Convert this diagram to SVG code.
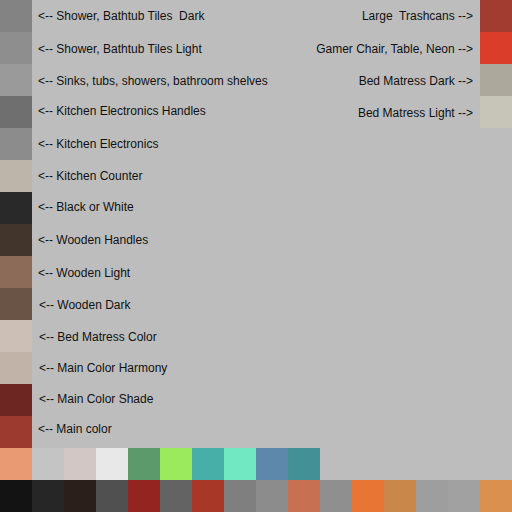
<svg xmlns="http://www.w3.org/2000/svg" width="512" height="512" viewBox="0 0 512 512">
<style>
text{font-family:"Liberation Sans",Arial,sans-serif;font-size:12px;fill:#111;white-space:pre}
.r{text-anchor:end}
</style>
<rect width="512" height="512" fill="#bdbdbd"/>
<g id="left-swatches">
<rect x="0" y="0" width="32" height="32" fill="#838383"/>
<rect x="0" y="32" width="32" height="32" fill="#8e8e8e"/>
<rect x="0" y="64" width="32" height="32" fill="#9a9a9a"/>
<rect x="0" y="96" width="32" height="32" fill="#6f6f6f"/>
<rect x="0" y="128" width="32" height="32" fill="#8c8c8c"/>
<rect x="0" y="160" width="32" height="32" fill="#bdb4aa"/>
<rect x="0" y="192" width="32" height="32" fill="#292929"/>
<rect x="0" y="224" width="32" height="32" fill="#42352c"/>
<rect x="0" y="256" width="32" height="32" fill="#8c6c58"/>
<rect x="0" y="288" width="32" height="32" fill="#6a5446"/>
<rect x="0" y="320" width="32" height="32" fill="#cbbfb6"/>
<rect x="0" y="352" width="32" height="32" fill="#c2b3a8"/>
<rect x="0" y="384" width="32" height="32" fill="#6e2622"/>
<rect x="0" y="416" width="32" height="32" fill="#9c3a30"/>
</g>
<g id="right-swatches">
<rect x="480" y="0" width="32" height="32" fill="#a23b30"/>
<rect x="480" y="32" width="32" height="32" fill="#da3e2a"/>
<rect x="480" y="64" width="32" height="32" fill="#aca99c"/>
<rect x="480" y="96" width="32" height="32" fill="#c7c5b8"/>
</g>
<g id="row14">
<rect x="0" y="448" width="32" height="32" fill="#ea9a72"/>
<rect x="32" y="448" width="32" height="32" fill="#c4c4c4"/>
<rect x="64" y="448" width="32" height="32" fill="#d2c7c4"/>
<rect x="96" y="448" width="32" height="32" fill="#e8e8e8"/>
<rect x="128" y="448" width="32" height="32" fill="#5c9a6b"/>
<rect x="160" y="448" width="32" height="32" fill="#9be95c"/>
<rect x="192" y="448" width="32" height="32" fill="#48aea8"/>
<rect x="224" y="448" width="32" height="32" fill="#72e8c2"/>
<rect x="256" y="448" width="32" height="32" fill="#5d87ab"/>
<rect x="288" y="448" width="32" height="32" fill="#439196"/>
</g>
<g id="row15">
<rect x="0" y="480" width="32" height="32" fill="#131313"/>
<rect x="32" y="480" width="32" height="32" fill="#262626"/>
<rect x="64" y="480" width="32" height="32" fill="#2a1f1a"/>
<rect x="96" y="480" width="32" height="32" fill="#505050"/>
<rect x="128" y="480" width="32" height="32" fill="#932420"/>
<rect x="160" y="480" width="32" height="32" fill="#636363"/>
<rect x="192" y="480" width="32" height="32" fill="#a83727"/>
<rect x="224" y="480" width="32" height="32" fill="#7f7f7f"/>
<rect x="256" y="480" width="32" height="32" fill="#8c8c8c"/>
<rect x="288" y="480" width="32" height="32" fill="#c87052"/>
<rect x="320" y="480" width="32" height="32" fill="#8f8f8f"/>
<rect x="352" y="480" width="32" height="32" fill="#e87533"/>
<rect x="384" y="480" width="32" height="32" fill="#c98849"/>
<rect x="416" y="480" width="32" height="32" fill="#9e9e9e"/>
<rect x="448" y="480" width="32" height="32" fill="#a1a1a1"/>
<rect x="480" y="480" width="32" height="32" fill="#da914f"/>
</g>
<g id="labels">
<text x="38" y="20">&lt;-- Shower, Bathtub Tiles  Dark</text>
<text x="38" y="53">&lt;-- Shower, Bathtub Tiles Light</text>
<text x="38" y="85">&lt;-- Sinks, tubs, showers, bathroom shelves</text>
<text x="38" y="115">&lt;-- Kitchen Electronics Handles</text>
<text x="38" y="148">&lt;-- Kitchen Electronics</text>
<text x="38" y="180">&lt;-- Kitchen Counter</text>
<text x="38" y="211">&lt;-- Black or White</text>
<text x="38" y="244">&lt;-- Wooden Handles</text>
<text x="38" y="277">&lt;-- Wooden Light</text>
<text x="39" y="309">&lt;-- Wooden Dark</text>
<text x="39" y="341">&lt;-- Bed Matress Color</text>
<text x="39" y="372">&lt;-- Main Color Harmony</text>
<text x="39" y="403">&lt;-- Main Color Shade</text>
<text x="38" y="433">&lt;-- Main color</text>
<text class="r" x="473" y="20">Large  Trashcans --&gt;</text>
<text class="r" x="473" y="53">Gamer Chair, Table, Neon --&gt;</text>
<text class="r" x="473" y="85">Bed Matress Dark --&gt;</text>
<text class="r" x="473" y="117">Bed Matress Light --&gt;</text>
</g>
</svg>
